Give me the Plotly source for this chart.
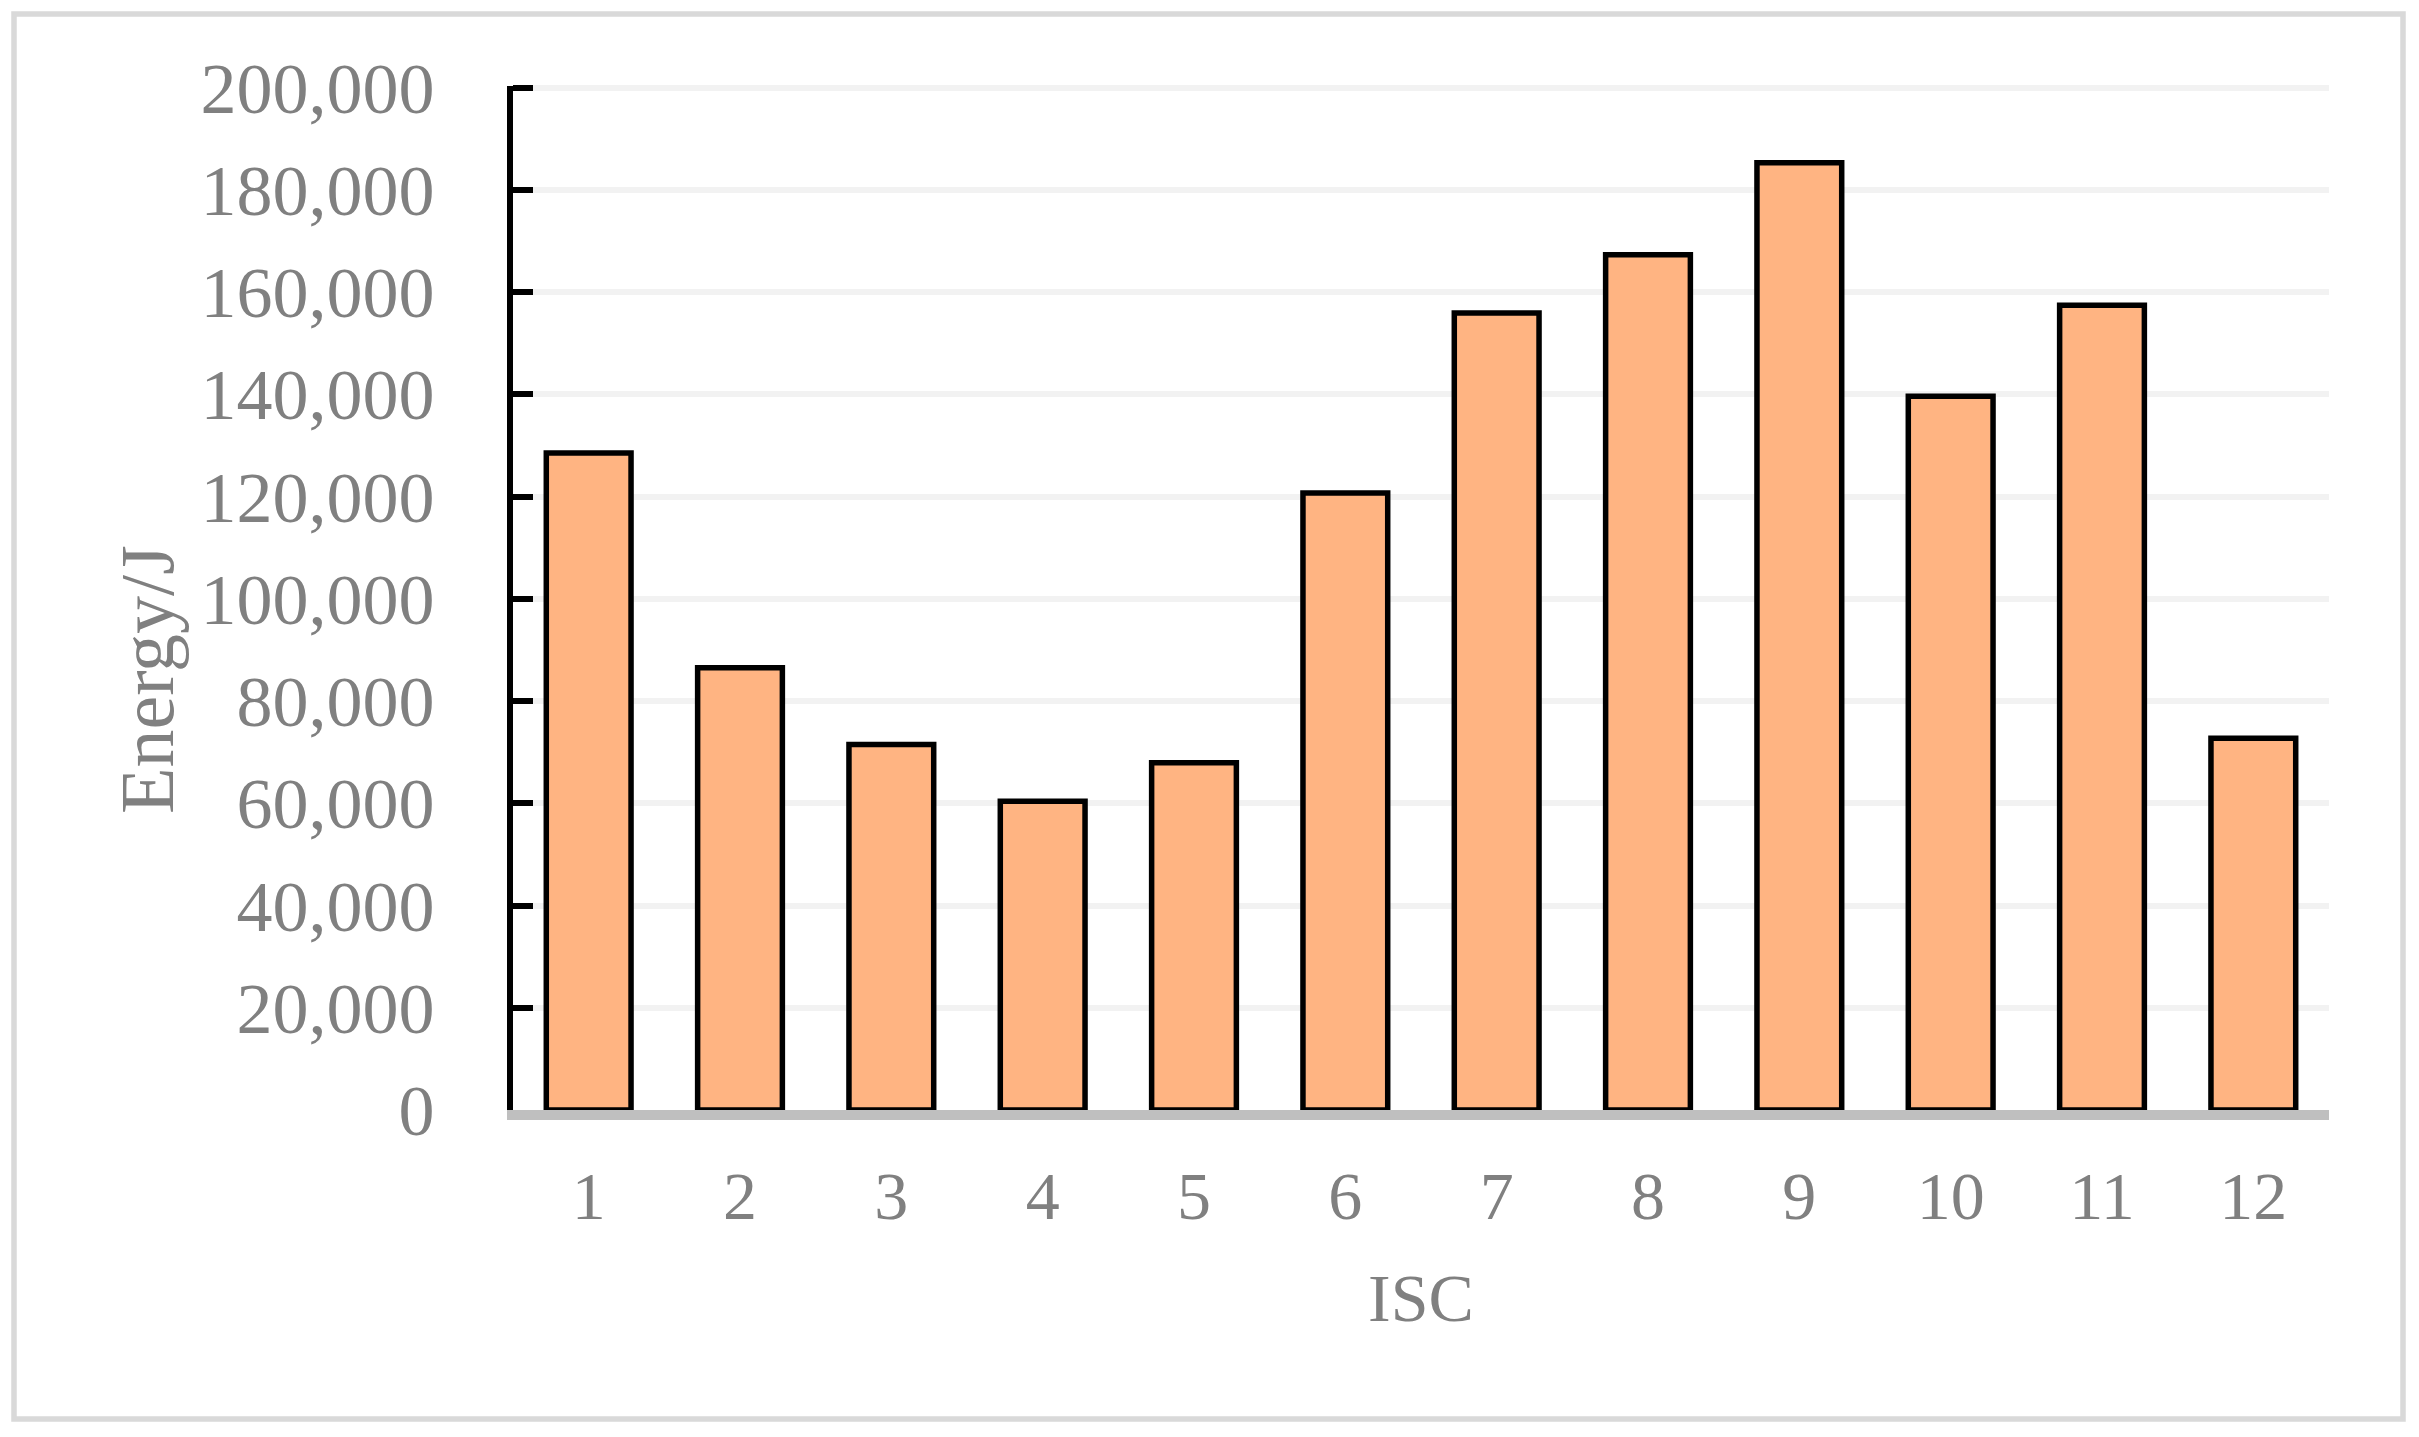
import plotly.graph_objects as go

categories = ["1", "2", "3", "4", "5", "6", "7", "8", "9", "10", "11", "12"]
energy = [128500, 86500, 71500, 60400, 67900, 120700, 155900, 167300, 185300, 139600, 157400, 72700]
y_ticks = [0, 20000, 40000, 60000, 80000, 100000, 120000, 140000, 160000, 180000, 200000]

W, H = 2419, 1437
ML, MR, MT, MB = 513, 90, 86, 327
PW, PH = W - ML - MR, H - MT - MB

def px_to_paper_x(px):
    return (px - ML) / PW

def px_to_paper_y(py):
    return (H - MB - py) / PH

FONT = "Liberation Serif"
GRAY = "#808080"

fig = go.Figure(go.Bar(
    x=categories, y=energy,
    marker=dict(color="#FFB482", line=dict(color="black", width=5.5)),
    width=0.56,
))

fig.update_layout(
    width=W, height=H,
    margin=dict(l=ML, r=MR, t=MT, b=MB, autoexpand=False),
    paper_bgcolor="white", plot_bgcolor="white",
    font=dict(family=FONT, size=68, color=GRAY),
    showlegend=False,
    shapes=[dict(type="rect", xref="paper", yref="paper",
                 x0=px_to_paper_x(14), x1=px_to_paper_x(2403),
                 y0=px_to_paper_y(1419), y1=px_to_paper_y(14),
                 line=dict(color="#D9D9D9", width=5.5), fillcolor="rgba(0,0,0,0)", layer="below")],
    annotations=[dict(text="Energy/J", textangle=-90, xref="paper", yref="paper",
                      x=px_to_paper_x(147), y=px_to_paper_y(680),
                      xanchor="center", yanchor="middle", showarrow=False,
                      font=dict(family=FONT, size=76, color=GRAY))],
)

fig.update_xaxes(
    type="category",
    showline=True, linecolor="#BFBFBF", linewidth=10,
    showgrid=False, ticks="",
    tickfont=dict(family=FONT, size=68, color=GRAY),
    ticklabelstandoff=17,
    title=dict(text="ISC", font=dict(family=FONT, size=68, color=GRAY), standoff=45),
)

fig.update_yaxes(
    range=[0, 200300],
    tickvals=y_ticks, tickformat=",",
    showline=True, linecolor="black", linewidth=6,
    ticks="inside", ticklen=20, tickwidth=6, tickcolor="black",
    showgrid=True, gridcolor="#F2F2F2", gridwidth=6,
    zeroline=False,
    tickfont=dict(family=FONT, size=72, color=GRAY),
    ticklabelstandoff=58,
)

fig.write_html("out.html", config={"displayModeBar": False},
               post_script="document.body.style.margin='0';document.body.style.overflow='hidden';")
